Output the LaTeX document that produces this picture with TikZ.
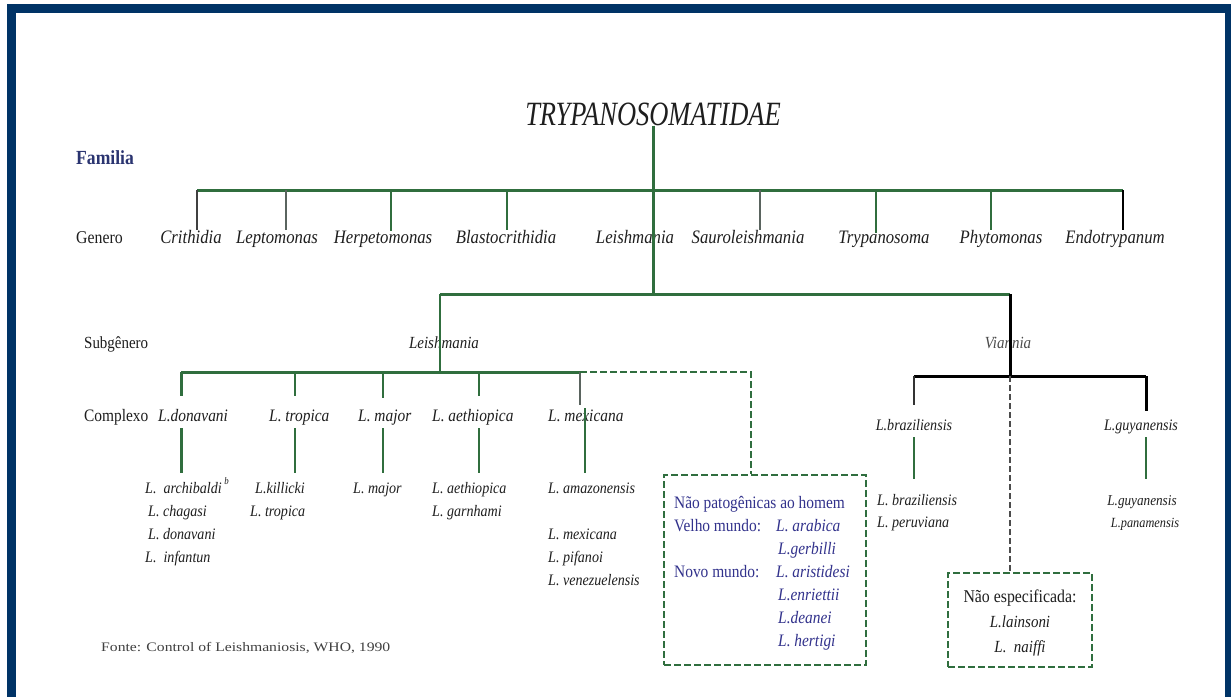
\documentclass[tikz,border=0pt]{standalone}
\usepackage{fontspec}
\setmainfont{Liberation Serif}[FakeStretch=0.88]
\usepackage{graphicx}
\definecolor{navy}{RGB}{0,51,102}
\definecolor{grn}{RGB}{48,110,62}
\definecolor{famblue}{RGB}{42,52,112}
\definecolor{boxblue}{RGB}{50,50,140}
\definecolor{txt}{RGB}{30,30,30}
\definecolor{thingray}{RGB}{90,100,95}
\begin{document}
\begin{tikzpicture}[x=1pt,y=-1pt,
  t/.style={inner sep=0pt, text=txt},
  titlestyle/.style={t, font=\fontsize{34}{34}\selectfont\itshape},
  famstyle/.style={inner sep=0pt, text=famblue, font=\fontsize{20}{20}\selectfont\bfseries},
  rowlab/.style={t, anchor=base west, font=\fontsize{18}{18}\selectfont},
  gen/.style={t, anchor=base, font=\fontsize{19}{19}\selectfont\itshape},
  cpx/.style={t, anchor=base west, font=\fontsize{17.5}{17.5}\selectfont\itshape},
  spc/.style={t, anchor=base west, font=\fontsize{16}{16}\selectfont\itshape},
  bx/.style={inner sep=0pt, anchor=base west, text=boxblue, font=\fontsize{17.5}{17.5}\selectfont},
  bxi/.style={bx, font=\fontsize{17.5}{17.5}\selectfont\itshape},
  ctr/.style={t, anchor=base},
  bar/.style={draw=grn, line width=3pt},
  gdrop/.style={draw=grn, line width=2.3pt},
  gthin/.style={draw=grn, line width=1.4pt},
  graydrop/.style={draw=thingray, line width=1.3pt},
  kbar/.style={draw=black, line width=3pt},
  kthin/.style={draw=black!80, line width=1.5pt},
  gdash/.style={draw=grn, line width=2.5pt, dash pattern=on 7pt off 3pt},
  kdash/.style={draw=black!70, line width=1.2pt, dash pattern=on 6pt off 3pt},
  dashbox/.style={draw=grn, line width=2.3pt, dash pattern=on 7pt off 3pt}
]
\useasboundingbox (0,0) rectangle (1231,697);
\fill[white] (0,0) rectangle (1231,697);
% frame
\fill[navy] (7,4) rectangle (16,697);
\fill[navy] (7,4) rectangle (1231,13);
\fill[navy] (1225,4) rectangle (1231,697);

% title and family
\node[titlestyle] (fam) at (653,114) {\scalebox{0.885}[1]{TRYPANOSOMATIDAE}};
\node[famstyle, anchor=west] (familia) at (76,158) {Familia};

% genus row
\node[rowlab] (genero) at (76,243) {Genero};
\node[gen] (crith) at (191,243) {Crithidia};
\node[gen] (lepto) at (277,243) {Leptomonas};
\node[gen] (herpe) at (383,243) {Herpetomonas};
\node[gen] (blast) at (506,243) {Blastocrithidia};
\node[gen] (leish) at (635,243) {Leishmania};
\node[gen] (sauro) at (748,243) {Sauroleishmania};
\node[gen] (tryp) at (884,243) {Trypanosoma};
\node[gen] (phyto) at (1001,243) {Phytomonas};
\node[gen] (endo) at (1115,243) {Endotrypanum};

\coordinate (gL) at (197,190);
\coordinate (gR) at (1123,190);
\coordinate (trunk) at (653,190);
\coordinate (sT) at (653,294);

\draw[bar] (fam.south -| trunk) -- (sT);
\draw[bar] (gL) -- (gR);
\draw[draw=black!75, line width=1.8pt] (gL) -- (197,230);
\draw[graydrop] (286,190) -- (286,230);
\draw[gdrop] (391,190) -- (391,231);
\draw[gdrop] (507,190) -- (507,230);
\draw[graydrop] (760,190) -- (760,230);
\draw[gdrop] (876,190) -- (876,233);
\draw[gdrop] (991,190) -- (991,230);
\draw[draw=black, line width=2.5pt] (gR) -- (1123,230);

% subgenus row
\node[rowlab, font=\fontsize{17}{17}\selectfont] (subg) at (84,348) {Subgênero};
\node[ctr, font=\fontsize{17}{17}\selectfont\itshape] (sleish) at (444,348) {Leishmania};
\node[ctr, text=black!70, font=\fontsize{17}{17}\selectfont\itshape] (vian) at (1008,348) {Viannia};

\coordinate (sL) at (440,294);
\coordinate (sR) at (1010,294);
\draw[bar] (sL) -- (sR);
\coordinate (cL) at (181,372);
\coordinate (cM) at (440,372);
\coordinate (cR) at (580,372);
\draw[gthin] (sL) -- (cM);
\draw[kbar] (sR) -- (1010,376);

% complex row (Leishmania)
\node[rowlab, font=\fontsize{17.5}{17.5}\selectfont] (cpxlab) at (84,421) {Complexo};
\node[cpx] (cdon) at (158,421) {L.donavani};
\node[cpx] (ctro) at (269,421) {L. tropica};
\node[cpx] (cmaj) at (358,421) {L. major};
\node[cpx] (caet) at (432,421) {L. aethiopica};
\node[cpx] (cmex) at (548,421) {L. mexicana};

\draw[bar] (cL) -- (cR);
\draw[bar] (cL) -- (181,396);
\draw[gdrop] (295,372) -- (295,396);
\draw[gdrop] (383,372) -- (383,398);
\draw[gdrop] (479,372) -- (479,396);
\draw[graydrop] (cR) -- (580,405);

\draw[bar] (181,428) -- (181,473);
\draw[gdrop] (295,428) -- (295,473);
\draw[gdrop] (383,428) -- (383,473);
\draw[gdrop] (479,428) -- (479,473);
\draw[gdrop] (585,408) -- (585,473);

% species lists
\node[spc] (arch) at (145,493) {L.\ \ archibaldi\,\raisebox{0.55em}{\fontsize{10}{10}\selectfont b}};
\node[spc] (chag) at (148,516) {L. chagasi};
\node[spc] (dono) at (148,539) {L. donavani};
\node[spc] (infa) at (145,562) {L.\ \ infantun};
\node[spc] (kill) at (255,493) {L.killicki};
\node[spc] (trop) at (250,516) {L. tropica};
\node[spc] (majo) at (353,493) {L. major};
\node[spc] (aeth) at (432,493) {L. aethiopica};
\node[spc] (garn) at (432,516) {L. garnhami};
\node[spc] (amaz) at (548,493) {L. amazonensis};
\node[spc] (mexi) at (548,539) {L. mexicana};
\node[spc] (pifa) at (548,562) {L. pifanoi};
\node[spc] (vene) at (548,585) {L. venezuelensis};

% dashed box 1 (non pathogenic)
\node[dashbox, minimum width=202pt, minimum height=190pt, inner sep=0pt] (box1) at (765,570) {};
\coordinate (dk) at (751,372);
\draw[gdash] (cR) -- (dk) -- (dk |- box1.north);
\node[bx] (np) at (674,508) {Não patogênicas ao homem};
\node[bx] (vm) at (674,531) {Velho mundo:};
\node[bxi] (arab) at (776,531) {L. arabica};
\node[bxi] (gerb) at (778,554) {L.gerbilli};
\node[bx] (nm) at (674,577) {Novo mundo:};
\node[bxi] (aris) at (776,577) {L. aristidesi};
\node[bxi] (enri) at (778,600) {L.enriettii};
\node[bxi] (dean) at (778,623) {L.deanei};
\node[bxi] (hert) at (778,646) {L. hertigi};

% Viannia branch
\coordinate (vL) at (914,376);
\coordinate (vR) at (1146,376);
\coordinate (vM) at (1010,376);
\draw[kbar] (vL) -- (vR);
\node[ctr, font=\fontsize{16}{16}\selectfont\itshape] (cbra) at (914,430) {L.braziliensis};
\node[ctr, font=\fontsize{16}{16}\selectfont\itshape] (cguy) at (1141,430) {L.guyanensis};
\draw[kthin] (vL) -- (914,405);
\draw[kbar] (vR) -- (1146,411);
\draw[gthin] (914,437) -- (914,479);
\draw[gdrop] (1146,437) -- (1146,479);
\node[spc] (braz) at (877,505) {L. braziliensis};
\node[spc] (peru) at (877,527) {L. peruviana};
\node[ctr, font=\fontsize{15}{15}\selectfont\itshape] (guya) at (1142,505) {L.guyanensis};
\node[ctr, font=\fontsize{14}{14}\selectfont\itshape] (pana) at (1145,527) {L.panamensis};

% dashed box 2 (unspecified)
\node[dashbox, line width=2pt, minimum width=144pt, minimum height=94pt, inner sep=0pt] (box2) at (1020,620) {};
\draw[kdash] (vM) -- (vM |- box2.north);
\node[ctr, font=\fontsize{18}{18}\selectfont] (nesp) at (1020,602) {Não especificada:};
\node[ctr, font=\fontsize{17}{17}\selectfont\itshape] (lain) at (1020,627) {L.lainsoni};
\node[ctr, font=\fontsize{17}{17}\selectfont\itshape] (naif) at (1020,652) {L.\ \ naiffi};

% source
\node[t, anchor=base west, text=black!75, font=\fontsize{13}{13}\selectfont] (fonte) at (101,651) {\scalebox{1.37}[1]{Fonte: Control of Leishmaniosis, WHO, 1990}};
\end{tikzpicture}
\end{document}
